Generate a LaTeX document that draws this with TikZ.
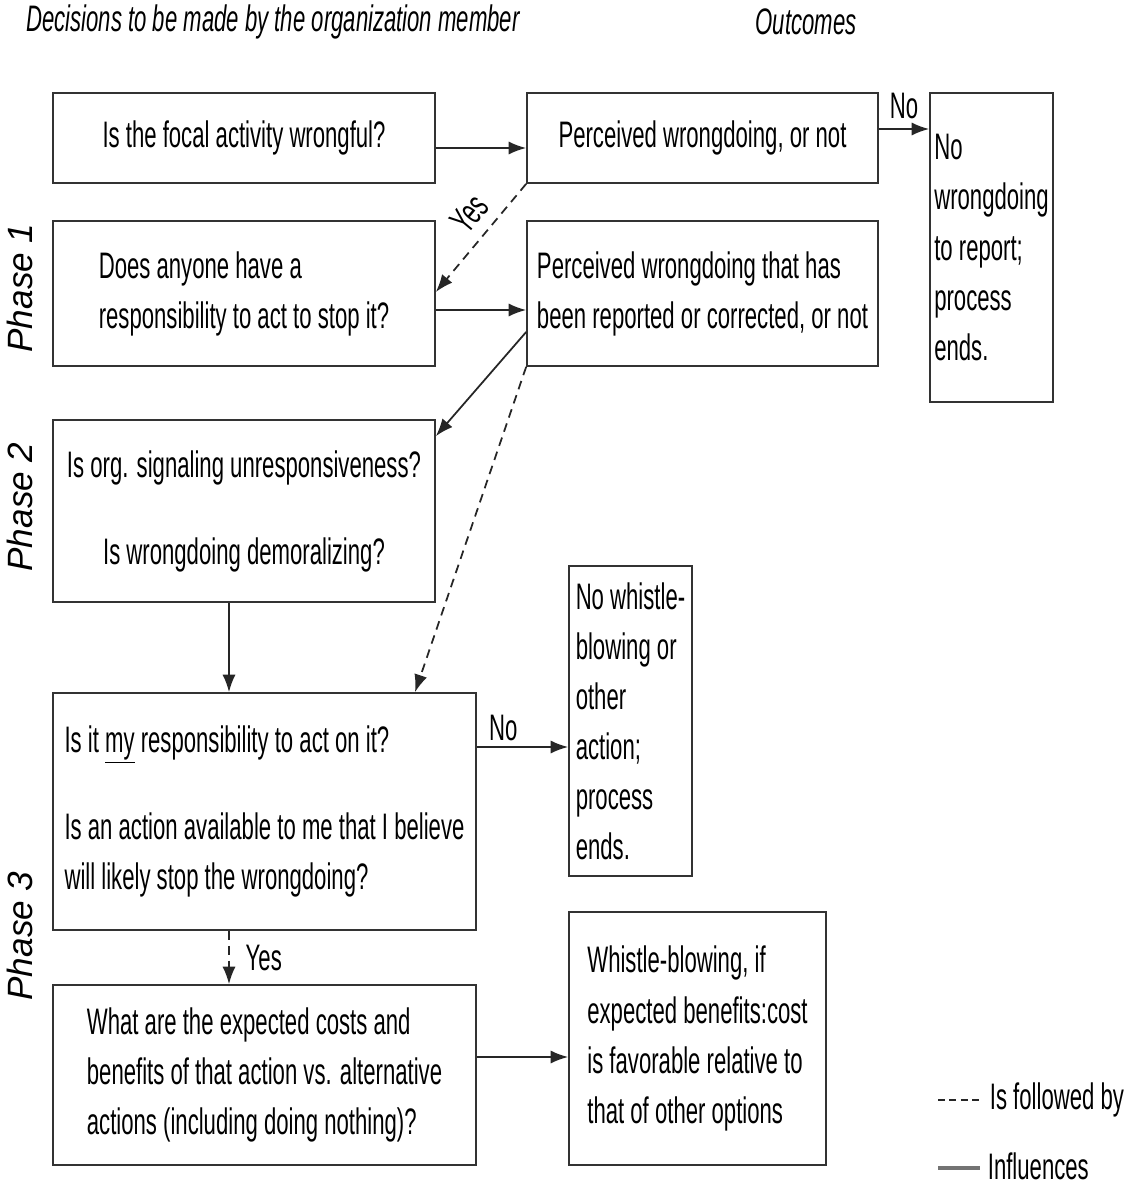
\documentclass[tikz,border=0pt]{standalone}
\usepackage{fontspec}
\setmainfont{Liberation Sans}
\newfontfamily\narrowfont{Liberation Sans}[FakeStretch=0.6]
\usetikzlibrary{arrows.meta,calc}

\begin{document}
\begin{tikzpicture}[
  x=0.02cm, y=-0.02cm,
  block/.style={rectangle, draw=black!80, line width=1pt, inner sep=0pt, align=left,
    font=\narrowfont\fontsize{21}{28.5}\selectfont},
  lbl/.style={font=\narrowfont\fontsize{21}{28.5}\selectfont, inner sep=2pt},
  head/.style={font=\narrowfont\itshape\fontsize{21}{28.5}\selectfont, inner sep=0pt},
  phase/.style={rotate=90, font=\itshape\fontsize{20}{24}\selectfont, inner sep=0pt},
  influence/.style={-{Latex[length=10pt,width=7.5pt]}, line width=1pt, draw=black!85},
  followedby/.style={influence, dash pattern=on 5pt off 3.5pt}
]
\useasboundingbox (0,0) rectangle (1133,1186);

\node[head] (decide) at (273,22) {Decisions to be made by the organization member};
\node[head] (outcome) at (806,22) {Outcomes};

\node[phase] (phase1) at (20,288) {Phase 1};
\node[phase] (phase2) at (20,507) {Phase 2};
\node[phase] (phase3) at (20,936) {Phase 3};

\node[block, minimum width=7.64cm, minimum height=1.8cm] (wrongful) at (244,138) {Is the focal activity wrongful?};
\node[block, minimum width=7.02cm, minimum height=1.8cm] (perceived) at (702.5,138) {Perceived wrongdoing, or not};
\node[block, minimum width=2.46cm, minimum height=6.18cm] (noreport) at (991.5,247.5) {No\\wrongdoing\\to report;\\process\\ends.};
\node[block, minimum width=7.64cm, minimum height=2.9cm] (anyone) at (244,293.5) {Does anyone have a\\responsibility to act to stop it?};
\node[block, minimum width=7.02cm, minimum height=2.9cm] (reported) at (702.5,293.5) {Perceived wrongdoing that has\\been reported or corrected, or not};
\node[block, align=center, minimum width=7.64cm, minimum height=3.64cm] (signal) at (244,511) {Is org. signaling unresponsiveness?\\[0.74cm]Is wrongdoing demoralizing?};
\node[block, minimum width=8.46cm, minimum height=4.74cm] (mine) at (264.5,811.5) {Is it \underline{my} responsibility to act on it?\\[0.74cm]Is an action available to me that I believe\\will likely stop the wrongdoing?};
\node[block, minimum width=2.46cm, minimum height=6.2cm] (noaction) at (630.5,721) {No whistle-\\blowing or\\other\\action;\\process\\ends.};
\node[block, minimum width=8.46cm, minimum height=3.6cm] (costs) at (264.5,1075) {What are the expected costs and\\benefits of that action vs. alternative\\actions (including doing nothing)?};
\node[block, minimum width=5.14cm, minimum height=5.06cm] (whistle) at (697.5,1038.5) {Whistle-blowing, if\\expected benefits:cost\\is favorable relative to\\that of other options};

\draw[influence] ($(wrongful.east)+(0,10)$) -- ($(perceived.west)+(0,10)$);
\draw[influence] ($(perceived.east)+(0,-9)$) -- node[lbl, above=3pt] {No} ($(noreport.west)+(0,-118.5)$);
\draw[followedby] (perceived.south west) -- node[lbl, sloped, above=4pt, pos=0.42] {Yes} ($(anyone.east)+(0,-1.5)$);
\draw[influence] ($(anyone.east)+(0,16.5)$) -- ($(reported.west)+(0,16.5)$);
\draw[influence] ($(reported.west)+(0,38.5)$) -- ($(signal.north east)+(0,17)$);
\draw[followedby] (reported.south west) -- ($(mine.north)+(150.5,0)$);
\draw[influence] ($(signal.south)+(-15,0)$) -- ($(mine.north)+(-35.5,0)$);
\draw[influence] ($(mine.east)+(0,-64.5)$) -- node[lbl, above=1pt, pos=0.29] {No} ($(noaction.west)+(0,26)$);
\draw[followedby] ($(mine.south)+(-35.5,0)$) -- node[lbl, right, xshift=7pt] {Yes} ($(costs.north)+(-35.5,0)$);
\draw[influence] ($(costs.east)+(0,-18)$) -- ($(whistle.west)+(0,18.5)$);

\coordinate (dashA) at (938,1100);
\coordinate (dashB) at (980,1100);
\coordinate (lineA) at (938,1168);
\coordinate (lineB) at (980,1168);
\draw[dash pattern=on 4pt off 2.5pt, line width=0.8pt, black!85] (dashA) -- (dashB);
\draw[line width=2pt, black!55] (lineA) -- (lineB);
\node[lbl, anchor=west] (followkey) at (986,1100) {Is followed by};
\node[lbl, anchor=west] (influencekey) at (984,1166) {Influences};
\end{tikzpicture}
\end{document}
